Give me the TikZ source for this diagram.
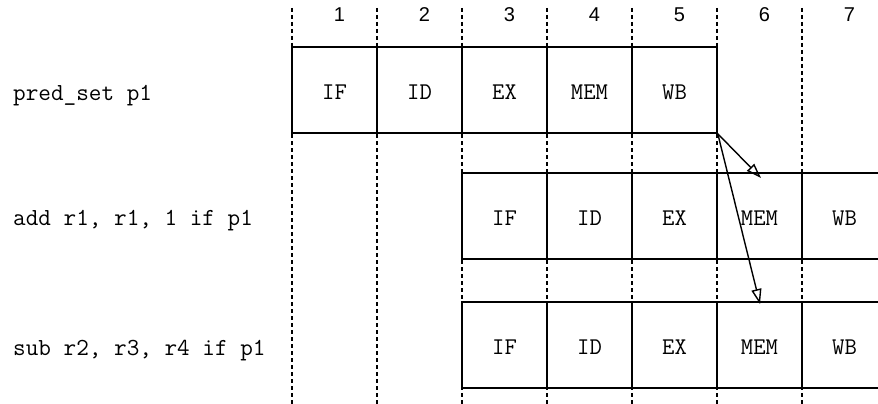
\documentclass[tikz,border=0pt]{standalone}
\usepackage{fontspec}
\setmainfont{Liberation Sans}
\setsansfont{Liberation Sans}
\usetikzlibrary{arrows.meta}
\begin{document}
\begin{tikzpicture}[x=1pt,y=-1pt,
  stage/.style={draw,line width=1.6pt,minimum width=85pt,minimum height=86pt,inner sep=0pt,
    text height=19pt,text depth=0pt,font=\fontsize{24}{24}\selectfont\ttfamily},
  instr/.style={anchor=base west,inner sep=0pt,font=\fontsize{24.5}{24}\selectfont\ttfamily},
  cyc/.style={anchor=base,inner sep=0pt,font=\fontsize{20}{20}\selectfont\sffamily},
  grid/.style={line width=1.6pt,dash pattern=on 4pt off 3pt},
  dep/.style={line width=1.4pt,-{Triangle[open,length=15pt,width=10pt]}}]
\useasboundingbox (0,0) rectangle (878,404);
\clip (0,0) rectangle (878,404);
% instruction labels
\node[instr] (i1) at (13,100) {pred\_set p1};
\node[instr] (i2) at (13,225) {add r1, r1, 1 if p1};
\node[instr] (i3) at (13,355) {sub r2, r3, r4 if p1};
% cycle numbers
\foreach \k in {1,...,7}{
  \node[cyc] (c\k) at ({292+85*(\k-1)+47.5},22) {\k};
}
% row 1
\node[stage] (a1) at (334.5,90) {IF};
\node[stage] (a2) at (419.5,90) {ID};
\node[stage] (a3) at (504.5,90) {EX};
\node[stage] (a4) at (589.5,90) {MEM};
\node[stage] (a5) at (674.5,90) {WB};
% row 2
\node[stage] (b1) at (504.5,216) {IF};
\node[stage] (b2) at (589.5,216) {ID};
\node[stage] (b3) at (674.5,216) {EX};
\node[stage] (b4) at (759.5,216) {MEM};
\node[stage] (b5) at (844.5,216) {WB};
% row 3
\node[stage] (d1) at (504.5,345) {IF};
\node[stage] (d2) at (589.5,345) {ID};
\node[stage] (d3) at (674.5,345) {EX};
\node[stage] (d4) at (759.5,345) {MEM};
\node[stage] (d5) at (844.5,345) {WB};
% dotted cycle boundaries
\foreach \k in {0,...,6}{
  \draw[grid] ({292+85*\k},8) -- ({292+85*\k},404);
}
% dependency arrows
\coordinate (t1) at (761,178);
\coordinate (t2) at (760,304);
\draw[dep] (a5.south east) -- (t1);
\draw[dep] (a5.south east) -- (t2);
\end{tikzpicture}
\end{document}
